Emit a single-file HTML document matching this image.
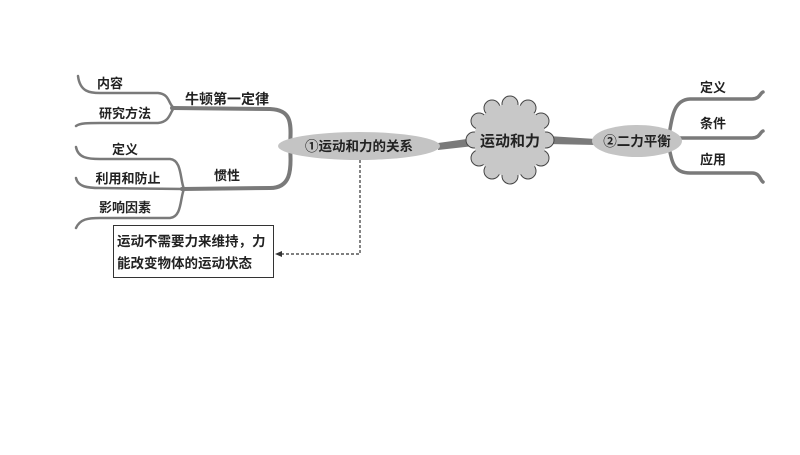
<!DOCTYPE html>
<html><head><meta charset="utf-8"><style>
body{margin:0;background:#fff;}
svg text{font-family:"Liberation Sans","Noto Sans CJK SC",sans-serif;font-weight:bold;fill:#222;}
</style></head><body>
<svg width="800" height="450" viewBox="0 0 800 450" xmlns="http://www.w3.org/2000/svg">
<g fill="none" stroke="#7a7a7a" stroke-linecap="round">
 <path d="M290,145 C292,120 290,110 270,109 L172,108" stroke-width="4"/>
 <path d="M290,147 C292,172 290,188 270,188 L182,189" stroke-width="4"/>
 <path d="M78,76 C80,92 90,93 100,93 L158,93 C170,94 168,104 174,108" stroke-width="2.5"/>
 <path d="M76,126 C80,123 88,123 100,123 L158,123 C170,122 170,112 174,108" stroke-width="2.5"/>
 <path d="M76,147 C78,158 88,159 100,159 L170,159 C182,160 180,180 184,189" stroke-width="2.5"/>
 <path d="M76,178 C78,187 88,188 100,188 L184,189" stroke-width="2.5"/>
 <path d="M76,228 C80,219 88,218 100,218 L170,218 C182,217 180,198 184,189" stroke-width="2.5"/>
 <path d="M668,141 C672,120 672,100 690,99 L752,99 C760,99 760,93 763,92" stroke-width="3.5"/>
 <path d="M680,138 L752,138 C760,138 760,132 763,131" stroke-width="3.5"/>
 <path d="M668,143 C672,160 672,173 690,173 L752,173 C760,173 760,180 763,182" stroke-width="3.5"/>
</g>
<path d="M438,143 L474,138 L474,146 L438,150 Z" fill="#7a7a7a"/>
<path d="M548,136 L596,139 L596,145 L548,144 Z" fill="#7a7a7a"/>
<ellipse cx="359" cy="146" rx="81" ry="14" fill="#c4c4c4"/>
<text x="359" y="151" font-size="13.5" text-anchor="middle">①运动和力的关系</text>
<ellipse cx="637" cy="141" rx="45" ry="16" fill="#c4c4c4"/>
<text x="637" y="146" font-size="13.5" text-anchor="middle">②二力平衡</text>
<g fill="#c8c8c8" stroke="#444" stroke-width="1">
 <circle cx="510" cy="104" r="8"/><circle cx="528" cy="108" r="8"/><circle cx="541" cy="121" r="8"/>
 <circle cx="546" cy="140" r="8"/><circle cx="541" cy="158" r="8"/><circle cx="528" cy="171" r="8"/>
 <circle cx="510" cy="176" r="8"/><circle cx="492" cy="171" r="8"/><circle cx="479" cy="158" r="8"/>
 <circle cx="474" cy="140" r="8"/><circle cx="479" cy="121" r="8"/><circle cx="492" cy="108" r="8"/>
</g>
<circle cx="510" cy="140" r="36" fill="#c8c8c8"/>
<text x="510" y="146" font-size="15" text-anchor="middle">运动和力</text>
<g font-size="13">
<text x="110" y="88" text-anchor="middle">内容</text>
<text x="125" y="118" text-anchor="middle">研究方法</text>
<text x="227" y="104" font-size="14" text-anchor="middle">牛顿第一定律</text>
<text x="125" y="154" text-anchor="middle">定义</text>
<text x="128" y="183" text-anchor="middle">利用和防止</text>
<text x="125" y="212" text-anchor="middle">影响因素</text>
<text x="227" y="180" text-anchor="middle">惯性</text>
<text x="713" y="92" text-anchor="middle">定义</text>
<text x="713" y="128" text-anchor="middle">条件</text>
<text x="713" y="164" text-anchor="middle">应用</text>
</g>
<rect x="113.5" y="225.5" width="160" height="52" fill="#fff" stroke="#333" stroke-width="1"/>
<text x="117" y="246" font-size="13.5">运动不需要力来维持，力</text>
<text x="117" y="268" font-size="13.5">能改变物体的运动状态</text>
<path d="M360,160 L360,254 L281,254" fill="none" stroke="#333" stroke-width="1.2" stroke-dasharray="3,2"/>
<path d="M275,254 L282,251 L282,257 Z" fill="#333"/>
</svg>
</body></html>
